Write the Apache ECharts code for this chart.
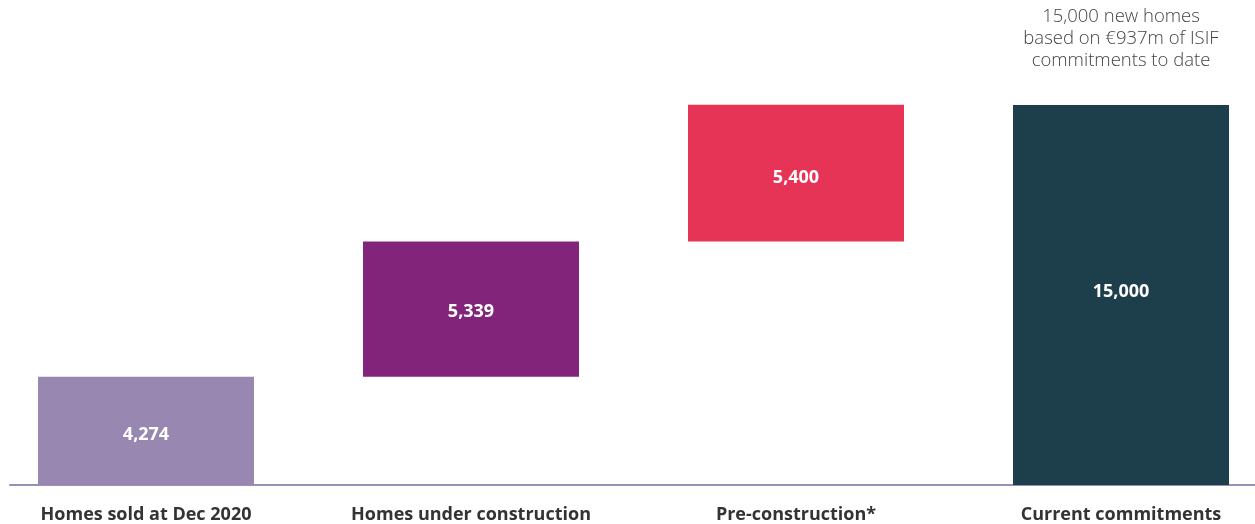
<!DOCTYPE html>
<html><head><meta charset="utf-8">
<script src="https://cdn.jsdelivr.net/npm/echarts@6/dist/echarts.min.js"></script>
<style>html,body{margin:0;padding:0;background:#fff}#c{width:1255px;height:524px}</style>
</head><body><div id="c"></div>
<script>
const categories = ['Homes sold at Dec 2020', 'Homes under construction', 'Pre-construction*', 'Current commitments'];
const values = [4274, 5339, 5400, 15000];
const bases = [0, 4274, 9613, 0];
const colors = ['#9787B1', '#82257A', '#E53455', '#1D3F4B'];
const note = '15,000 new homes\nbased on €937m of ISIF\ncommitments to date';

const labelShift = [4, 3, 5, -3];

const chart = echarts.init(document.getElementById('c'));
chart.setOption({
  animation: false,
  textStyle: { fontFamily: 'Open Sans' },
  grid: [
    { left: -16.5, right: -28.5, top: 102.5, bottom: 39, outerBoundsMode: 'none', containLabel: false },
    { left: 10, right: 0, top: 102.5, bottom: 39, outerBoundsMode: 'none', containLabel: false }
  ],
  xAxis: [
    { type: 'category', gridIndex: 0, data: categories,
      axisLine: { show: false }, axisTick: { show: false },
      axisLabel: { margin: 21, fontSize: 18, fontWeight: 'bold', color: '#333', fontFamily: 'Open Sans' } },
    { type: 'category', gridIndex: 1, data: [''],
      axisLine: { show: true, lineStyle: { color: '#9B8EB8', width: 2 } },
      axisTick: { show: false }, axisLabel: { show: false } }
  ],
  yAxis: [
    { type: 'value', gridIndex: 0, min: 0, max: 15100, show: false, splitLine: { show: false } },
    { type: 'value', gridIndex: 1, min: 0, max: 15100, show: false, splitLine: { show: false } }
  ],
  series: [
    { type: 'bar', stack: 'w', barWidth: 216, data: bases,
      itemStyle: { color: 'transparent' }, silent: true },
    { type: 'bar', stack: 'w', barWidth: 216,
      data: values.map((v, i) => ({ value: v, itemStyle: { color: colors[i] }, label: { offset: [0, labelShift[i]] } })),
      label: { show: true, position: 'inside', color: '#fff', fontSize: 18, fontWeight: 'bold',
        fontFamily: 'Open Sans', formatter: p => p.value.toLocaleString('en-US') } },
    { type: 'bar', stack: 'w', barWidth: 216,
      data: values.map((v, i) => i === 3 ? { value: 0.0001, label: { show: true } } : { value: 0, label: { show: false } }),
      itemStyle: { color: 'transparent' }, silent: true,
      label: { position: 'top', distance: 33, formatter: () => note, color: '#444', fontSize: 18.5,
        lineHeight: 22, fontWeight: 300, fontFamily: 'Open Sans', align: 'center' } }
  ]
});
</script></body></html>
